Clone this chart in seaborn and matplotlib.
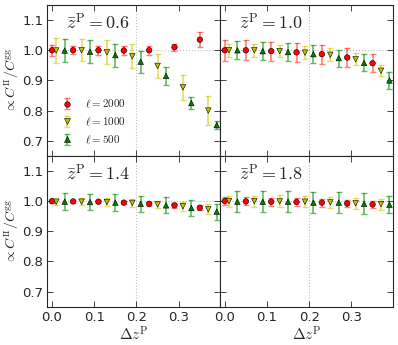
import numpy as np
import pandas as pd
import matplotlib
matplotlib.use("Agg")
import matplotlib.pyplot as plt
import seaborn as sns
from matplotlib.legend_handler import HandlerTuple

# ---------------- data ----------------
zbar_labels = ["0.6", "1.0", "1.4", "1.8"]
ells = ["2000", "1000", "500"]

x_2000 = [0.00, 0.05, 0.11, 0.17, 0.23, 0.29, 0.35]
x_1000 = [0.01, 0.07, 0.13, 0.19, 0.25, 0.31, 0.37]
x_500 = [0.03, 0.09, 0.15, 0.21, 0.27, 0.33, 0.39]

# panel z=0.6
y06_2000 = [1.000, 1.000, 1.000, 0.999, 1.000, 1.010, 1.035]
e06_2000 = [0.019, 0.013, 0.015, 0.015, 0.015, 0.011, 0.025]
y06_1000 = [0.999, 1.000, 0.993, 0.980, 0.948, 0.877, 0.800]
e06_1000 = [0.040, 0.037, 0.040, 0.040, 0.040, 0.042, 0.047]
y06_500 = [0.999, 0.995, 0.984, 0.962, 0.915, 0.825, 0.752]
e06_500 = [0.039, 0.038, 0.038, 0.036, 0.030, 0.019, 0.012]

# panel z=1.0
y10_2000 = [1.000, 1.000, 0.997, 0.993, 0.987, 0.976, 0.957]
e10_2000 = [0.034, 0.033, 0.032, 0.032, 0.032, 0.032, 0.029]
y10_1000 = [1.000, 1.000, 0.997, 0.992, 0.985, 0.970, 0.932]
e10_1000 = [0.021, 0.021, 0.021, 0.021, 0.021, 0.020, 0.018]
y10_500 = [1.000, 0.997, 0.994, 0.987, 0.974, 0.958, 0.900]
e10_500 = [0.030, 0.030, 0.030, 0.029, 0.028, 0.028, 0.027]

# panel z=1.4
y14_2000 = [1.000, 0.999, 0.998, 0.995, 0.991, 0.986, 0.978]
e14_2000 = [0.005, 0.005, 0.005, 0.006, 0.006, 0.008, 0.008]
y14_1000 = [0.998, 0.998, 0.997, 0.994, 0.989, 0.983, 0.973]
e14_1000 = [0.010, 0.012, 0.012, 0.012, 0.013, 0.015, 0.017]
y14_500 = [0.998, 0.997, 0.995, 0.991, 0.986, 0.977, 0.965]
e14_500 = [0.028, 0.028, 0.028, 0.027, 0.027, 0.027, 0.027]

# panel z=1.8
y18_2000 = [1.000, 0.999, 0.998, 0.997, 0.995, 0.992, 0.989]
e18_2000 = [0.013, 0.013, 0.013, 0.013, 0.013, 0.013, 0.013]
y18_1000 = [1.000, 1.000, 0.999, 0.998, 0.996, 0.993, 0.990]
e18_1000 = [0.018, 0.018, 0.020, 0.018, 0.018, 0.018, 0.018]
y18_500 = [0.998, 0.998, 0.998, 0.995, 0.995, 0.991, 0.988]
e18_500 = [0.035, 0.035, 0.035, 0.035, 0.035, 0.035, 0.028]

xs = {"2000": x_2000, "1000": x_1000, "500": x_500}
panels = {
    "0.6": {"2000": (y06_2000, e06_2000), "1000": (y06_1000, e06_1000), "500": (y06_500, e06_500)},
    "1.0": {"2000": (y10_2000, e10_2000), "1000": (y10_1000, e10_1000), "500": (y10_500, e10_500)},
    "1.4": {"2000": (y14_2000, e14_2000), "1000": (y14_1000, e14_1000), "500": (y14_500, e14_500)},
    "1.8": {"2000": (y18_2000, e18_2000), "1000": (y18_1000, e18_1000), "500": (y18_500, e18_500)},
}

rows = []
for z in zbar_labels:
    for ell in ells:
        yv, ev = panels[z][ell]
        for xx, yy, ee in zip(xs[ell], yv, ev):
            rows.append(dict(zbar=z, ell=ell, dz=xx, ratio=yy, err=ee))
df = pd.DataFrame(rows)

# ---------------- style ----------------
sns.set_style("ticks")
plt.rcParams["font.family"] = ["DejaVu Sans"]
plt.rcParams["mathtext.fontset"] = "cm"
plt.rcParams["xtick.direction"] = "in"
plt.rcParams["ytick.direction"] = "in"
plt.rcParams["xtick.top"] = True
plt.rcParams["ytick.right"] = True

markers = {"2000": "o", "1000": "v", "500": "^"}
mcolors = {"2000": "red", "1000": (0.75, 0.75, 0.0), "500": "green"}
ecolors = {"2000": (1.0, 0.0, 0.0, 0.5), "1000": (0.8, 0.8, 0.0, 0.6), "500": (0.0, 0.55, 0.0, 0.6)}

fig, axes = plt.subplots(2, 2, figsize=(3.98, 3.45), dpi=100, sharex=True, sharey=True)
fig.subplots_adjust(left=0.119, right=0.987, top=0.9855, bottom=0.111, hspace=0, wspace=0)

legend_handles = []
for ax, z in zip(axes.flat, zbar_labels):
    sub = df[df.zbar == z]
    ax.axhline(1.0, color="0.75", ls=":", lw=0.8, zorder=0)
    ax.axvline(0.2, color="0.75", ls=":", lw=0.8, zorder=0)
    for ell in ells:
        s = sub[sub.ell == ell]
        cont = ax.errorbar(s.dz, s.ratio, yerr=s.err, fmt="none", ecolor=ecolors[ell],
                           elinewidth=1.2, capsize=2.5, capthick=1.0, zorder=2)
        if z == "0.6":
            mk = plt.Line2D([], [], ls="none", marker=markers[ell], color=mcolors[ell],
                            markeredgecolor="k", markeredgewidth=0.4, markersize=4)
            legend_handles.append(((cont, mk), r"$\ell = %s$" % ell))
    sns.scatterplot(data=sub, x="dz", y="ratio", hue="ell", style="ell",
                    palette=mcolors, markers=markers, hue_order=ells, style_order=ells,
                    s=16, edgecolor="k", linewidth=0.4, legend=False, ax=ax, zorder=3)
    ax.set_xlim(-0.011, 0.398)
    ax.set_ylim(0.65, 1.15)
    ax.set_xticks([0.0, 0.1, 0.2, 0.3])
    ax.set_yticks([0.7, 0.8, 0.9, 1.0, 1.1])
    ax.tick_params(length=4, width=0.6, labelsize=9.5, pad=3)
    for sp in ax.spines.values():
        sp.set_linewidth(0.8)
    ax.set_xlabel("")
    ax.set_ylabel("")
    ax.text(0.11, 0.95, r"$\bar{z}^{\rm P} = %s$" % z, transform=ax.transAxes,
            fontsize=13, ha="left", va="top")

for ax in axes[1, :]:
    ax.set_xlabel(r"$\Delta z^{\rm P}$", fontsize=11, labelpad=1)
    ax.set_xticklabels(["0.0", "0.1", "0.2", "0.3"])
for ax in axes[:, 0]:
    ax.set_yticklabels(["0.7", "0.8", "0.9", "1.0", "1.1"])
    ax.set_ylabel(r"$\propto C^{\rm II}/C^{\rm gg}$", fontsize=10, labelpad=0)
    ax.yaxis.set_label_coords(-0.15, 0.5)

axes[0, 0].legend([h for h, _ in legend_handles], [l for _, l in legend_handles],
                  handler_map={tuple: HandlerTuple(ndivide=1)},
                  loc="lower left", bbox_to_anchor=(0.02, 0.0), frameon=False,
                  fontsize=8, handlelength=1.2, handletextpad=1.0, labelspacing=0.5)

fig.savefig("out.png", dpi=100)
